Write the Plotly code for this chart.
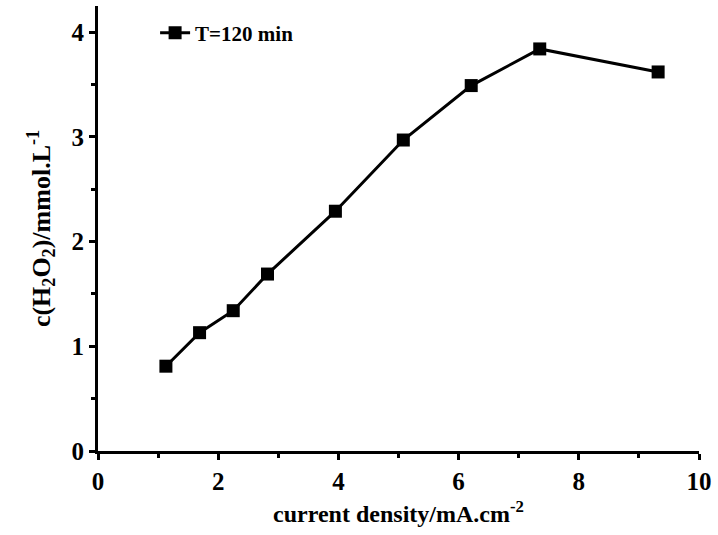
import plotly.graph_objects as go

current_density = [1.13, 1.69, 2.25, 2.82, 3.95, 5.08, 6.21, 7.35, 9.32]
c_h2o2 = [0.81, 1.13, 1.34, 1.69, 2.29, 2.97, 3.49, 3.84, 3.62]
series_name = "T=120 min"

font_family = "Liberation Serif"

fig = go.Figure()
fig.add_trace(go.Scatter(
    x=current_density, y=c_h2o2, mode="lines+markers", name=series_name,
    line=dict(color="black", width=3),
    marker=dict(symbol="square", size=13, color="black"),
))

axis_common = dict(
    showline=True, linecolor="black", linewidth=3,
    ticks="outside", ticklen=6, tickwidth=3, tickcolor="black",
    showgrid=False, zeroline=False, mirror=False,
    tickfont=dict(family=font_family, size=25, color="black", weight="bold"),
)

fig.update_xaxes(
    range=[0, 10], dtick=2, tick0=0,
    minor=dict(dtick=1, ticks="outside", ticklen=4, tickwidth=3, tickcolor="black"),
    title=dict(text="<b>current density/mA.cm<sup>-2</sup></b>",
               font=dict(family=font_family, size=24, color="black"), standoff=12),
    **axis_common,
)
fig.update_yaxes(
    range=[0, 4.25], dtick=1, tick0=0,
    minor=dict(dtick=0.5, ticks="outside", ticklen=4, tickwidth=3, tickcolor="black"),
    title=dict(text="<b>c(H<sub>2</sub>O<sub>2</sub>)/mmol.L<sup>-1</sup></b>",
               font=dict(family=font_family, size=26, color="black"), standoff=14),
    **axis_common,
)

fig.update_layout(
    width=718, height=535,
    margin=dict(l=98, r=15, t=6, b=84),
    plot_bgcolor="white", paper_bgcolor="white",
    showlegend=True,
    legend=dict(x=0.095, y=0.985, xanchor="left", yanchor="top",
                font=dict(family=font_family, size=21, color="black", weight="bold"),
                bgcolor="rgba(0,0,0,0)", itemwidth=30),
)

fig.write_html("out.html")
